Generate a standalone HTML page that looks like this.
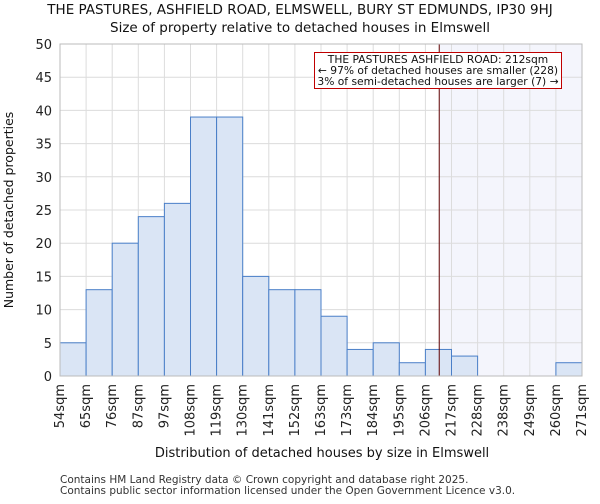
<!DOCTYPE html>
<html><head><meta charset="utf-8"><style>
body{margin:0;background:#fff;font-family:"DejaVu Sans","Liberation Sans",sans-serif;}
</style></head><body>
<svg width="600" height="500" xmlns="http://www.w3.org/2000/svg" font-family="DejaVu Sans, Liberation Sans, sans-serif">
<g id="root"></g>
</svg>
<script>
const categories=["54sqm","65sqm","76sqm","87sqm","97sqm","108sqm","119sqm","130sqm","141sqm","152sqm","163sqm","173sqm","184sqm","195sqm","206sqm","217sqm","228sqm","238sqm","249sqm","260sqm","271sqm"];
const counts=[5,13,20,24,26,39,39,15,13,13,9,4,5,2,4,3,0,0,0,2];
const yTicks=[0,5,10,15,20,25,30,35,40,45,50];
const markerBinPos=[14.53];
const NS="http://www.w3.org/2000/svg";
const root=document.getElementById('root');
const X0=60,X1=582,Y0=376,Y1=44,nb=counts.length,bw=(X1-X0)/nb;
const xs=i=>X0+i*bw;
const ys=v=>Y0-(v/50)*(Y0-Y1);
function mk(t,a,p){const e=document.createElementNS(NS,t);for(const k in a)e.setAttribute(k,a[k]);(p||root).appendChild(e);return e;}
function txt(s,a){const e=mk('text',a);e.textContent=s;return e;}
const mx=xs(markerBinPos[0]);
let e=mk('rect',{x:mx,y:Y1,width:X1-mx,height:Y0-Y1,fill:'#f4f5fc'});


yTicks.forEach(v=>{let g=mk('line',{x1:X0,x2:X1,y1:ys(v),y2:ys(v),stroke:'#dcdcdc'});


let t=txt(v,{x:X0-8,y:ys(v)+5,'text-anchor':'end','font-size':13,fill:'#222'});

});
categories.forEach((c,i)=>{let g=mk('line',{x1:xs(i),x2:xs(i),y1:Y1,y2:Y0,stroke:'#dcdcdc'});


let x=xs(i),y=Y0+8;
let t=txt(c,{x:x+4,y:y,'text-anchor':'end','font-size':13,fill:'#222',transform:`rotate(-90 ${x+4} ${y})`});

});
counts.forEach((v,i)=>{if(v<=0)return;let r=mk('rect',{x:xs(i),y:ys(v),width:bw,height:Y0-ys(v),fill:'#dae5f5',stroke:'#4a7fc8','stroke-width':1});

});
e=mk('line',{x1:mx,x2:mx,y1:Y1,y2:Y0,stroke:'#600000','stroke-width':1});


e=mk('rect',{x:X0,y:Y1,width:X1-X0,height:Y0-Y1,fill:'none',stroke:'#bbb'});


e=mk('rect',{x:314.5,y:52.5,width:247,height:36,fill:'#fff',stroke:'#c00000','stroke-width':1});


[["THE PASTURES ASHFIELD ROAD: 212sqm",63],["← 97% of detached houses are smaller (228)",74],["3% of semi-detached houses are larger (7) →",85]].forEach(([s,y])=>{let t=txt(s,{x:438,y:y,'text-anchor':'middle','font-size':10.7,fill:'#111'});

});
e=txt("THE PASTURES, ASHFIELD ROAD, ELMSWELL, BURY ST EDMUNDS, IP30 9HJ",{x:300,y:14,'text-anchor':'middle','font-size':13.5,fill:'#111'});


e=txt("Size of property relative to detached houses in Elmswell",{x:300,y:32,'text-anchor':'middle','font-size':13.5,fill:'#111'});


e=txt("Distribution of detached houses by size in Elmswell",{x:322,y:457,'text-anchor':'middle','font-size':13,fill:'#111'});


e=txt("Number of detached properties",{x:13,y:210,'text-anchor':'middle','font-size':12.5,fill:'#111',transform:'rotate(-90 13 210)'});


e=txt("Contains HM Land Registry data © Crown copyright and database right 2025.",{x:60,y:483,'font-size':10.5,fill:'#333'});


e=txt("Contains public sector information licensed under the Open Government Licence v3.0.",{x:60,y:494,'font-size':10.5,fill:'#333'});


</script>
</body></html>
